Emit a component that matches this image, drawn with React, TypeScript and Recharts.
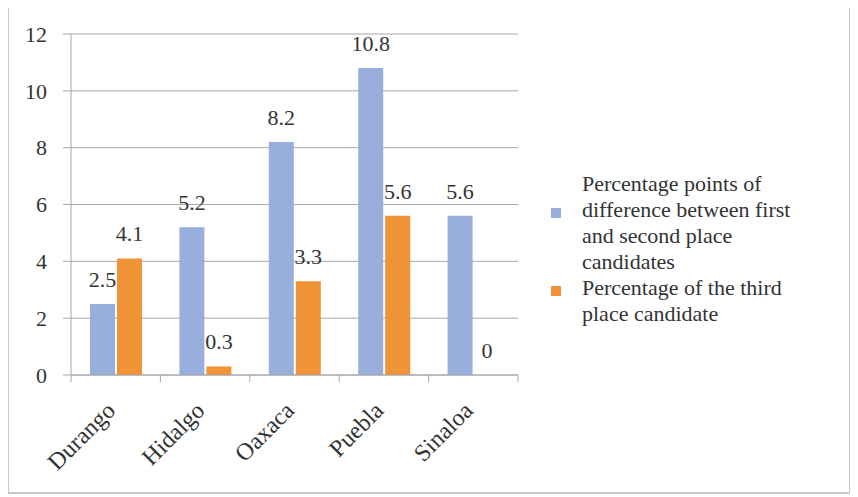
import React from 'react'
import { BarChart, Bar, XAxis, YAxis, CartesianGrid, Legend, LabelList, Rectangle } from 'recharts'

const states = ['Durango', 'Hidalgo', 'Oaxaca', 'Puebla', 'Sinaloa']
const marginPoints = [2.5, 5.2, 8.2, 10.8, 5.6]
const thirdPlace = [4.1, 0.3, 3.3, 5.6, 0]
const yTicks = [0, 2, 4, 6, 8, 10, 12]

const SERIES_A = 'Percentage points of difference between first and second place candidates'
const SERIES_B = 'Percentage of the third place candidate'

const data = states.map((state, i) => ({ state, a: marginPoints[i], b: thirdPlace[i] }))

const FONT = "'Liberation Serif', 'DejaVu Serif', serif"
const TEXT = '#333'
const GRID = '#a6a6a6'
const BLUE = '#98aedd'
const ORANGE = '#ef9336'

const CHART_W = 840
const CHART_H = 484
const LEFT = 62
const RIGHT = 331
const BAND = (CHART_W - LEFT - RIGHT) / states.length

const StateTick = (props: any) => {
  const { x, y, payload, index } = props
  const half = BAND / 2
  const ax = x + 1
  const ay = y + 37
  return (
    <g>
      <line x1={x - half} y1={y} x2={x - half} y2={y + 7} stroke={GRID} />
      {index === states.length - 1 && (
        <line x1={x + half} y1={y} x2={x + half} y2={y + 7} stroke={GRID} />
      )}
      <text
        x={ax}
        y={ay}
        transform={`rotate(-45, ${ax}, ${ay})`}
        textAnchor="end"
        fill={TEXT}
        fontSize={24}
        fontFamily={FONT}
      >
        {payload.value}
      </text>
    </g>
  )
}

// top label drawn by hand so that a zero value still shows
const TopLabel = (props: any) => {
  const { x, y, width, height, value } = props
  const top = Math.min(y, y + height)
  return (
    <text
      x={x + width / 2}
      y={value === 0 ? y + height - 17 : top - 17}
      textAnchor="middle"
      fill={TEXT}
      fontSize={22}
      fontFamily={FONT}
    >
      {value}
    </text>
  )
}

// zero values keep a 1px rect (so the label survives) but draw nothing
const BarShape = (props: any) => {
  if (props.value === 0 || (Array.isArray(props.value) && props.value[1] === 0)) return <g />
  return <Rectangle {...props} />
}

const renderLegend = (props: any) => {
  const { payload = [] } = props
  return (
    <div style={{ fontFamily: FONT, fontSize: 22, color: TEXT, lineHeight: '26px', textAlign: 'left' }}>
      {payload.map((entry: any) => (
        <div key={entry.value} style={{ display: 'flex', alignItems: 'center' }}>
          <span
            style={{
              width: 10,
              height: 10,
              background: entry.color,
              marginRight: 21,
              flex: 'none',
              transform: 'translateY(-10px)',
            }}
          />
          <span style={{ width: 222 }}>{entry.value}</span>
        </div>
      ))}
    </div>
  )
}

export default function App() {
  return (
    <div
      style={{
        width: 844,
        height: 488,
        border: '2px solid #c8c8c8',
        boxSizing: 'border-box',
        marginLeft: -1,
        marginTop: -2,
        background: '#fff',
      }}
    >
      <BarChart
        width={CHART_W}
        height={CHART_H}
        data={data}
        margin={{ top: 26, right: RIGHT, left: 0, bottom: 0 }}
        barSize={25}
        barGap={2}
      >
        <CartesianGrid vertical={false} stroke={GRID} />
        <XAxis
          dataKey="state"
          height={117}
          interval={0}
          tickLine={false}
          tickSize={0}
          tickMargin={0}
          axisLine={{ stroke: GRID }}
          tick={<StateTick />}
        />
        <YAxis
          width={LEFT}
          domain={[0, 12]}
          ticks={yTicks}
          interval={0}
          tickSize={8}
          tickMargin={16}
          tickLine={{ stroke: GRID }}
          axisLine={{ stroke: GRID }}
          tick={{ fill: TEXT, fontSize: 22, fontFamily: FONT }}
        />
        <Legend
          layout="vertical"
          verticalAlign="middle"
          align="center"
          content={renderLegend}
          itemSorter={(item: any) => (item.dataKey === 'a' ? 0 : 1)}
          wrapperStyle={{ left: 542, top: 163, width: 290 }}
        />
        <Bar dataKey="a" name={SERIES_A} fill={BLUE} isAnimationActive={false}>
          <LabelList dataKey="a" content={<TopLabel />} />
        </Bar>
        <Bar
          dataKey="b"
          name={SERIES_B}
          fill={ORANGE}
          minPointSize={1}
          shape={<BarShape />}
          isAnimationActive={false}
        >
          <LabelList dataKey="b" content={<TopLabel />} />
        </Bar>
      </BarChart>
    </div>
  )
}
